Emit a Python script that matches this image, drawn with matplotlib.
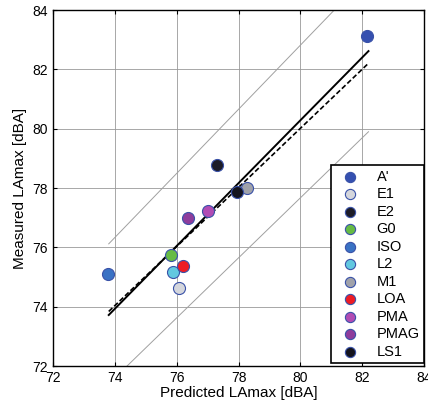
import numpy as np
import matplotlib
matplotlib.use('Agg')
import matplotlib.pyplot as plt

plt.rcParams['font.family'] = ['Liberation Sans', 'DejaVu Sans']

# Datos de los puntos
etiquetas = ["A'", 'E1', 'E2', 'G0', 'ISO', 'L2', 'M1', 'LOA', 'PMA', 'PMAG', 'LS1']
predicho = [82.16, 76.06, 77.29, 75.81, 73.77, 75.87, 78.26, 76.19, 77.00, 76.35, 77.94]
medido = [83.12, 74.64, 78.78, 75.75, 75.11, 75.18, 78.00, 75.38, 77.23, 77.00, 77.87]
colores = ['#3550b0', '#d4d6dc', '#1c1c28', '#66bb44', '#3a72c4', '#62c8e0',
           '#a0a2aa', '#ee1c24', '#b14cb4', '#8e3c9c', '#14141e']

# Lineas de regresion e intervalos
x_lin = [73.8, 82.2]
y_reg = [73.72, 82.62]
y_reg2 = [73.84, 82.21]
y_sup = [76.12, 85.2]
y_inf = [71.4, 79.9]

fig = plt.figure(figsize=(4.28, 4.07), dpi=100)
ax = fig.add_axes([0.124, 0.1007, 0.867, 0.8743])

ax.plot(x_lin, y_sup, color='#a0a0a0', lw=0.7)
ax.plot(x_lin, y_inf, color='#a0a0a0', lw=0.7)
ax.plot(x_lin, y_reg, color='black', lw=1.4)
ax.plot(x_lin, y_reg2, color='black', lw=1.2, ls=(0, (3, 1.5)))

for i in range(len(etiquetas)):
    ax.scatter(predicho[i], medido[i], s=75, color=colores[i], edgecolor='#3a52a8',
               linewidth=0.8, label=etiquetas[i], zorder=3)

ax.set_xlim(72, 84)
ax.set_ylim(72, 84)
ax.set_xticks(np.arange(72, 85, 2))
ax.set_yticks(np.arange(72, 85, 2))
ax.grid(True, color='#999999', lw=0.6)
ax.tick_params(direction='in', top=True, right=True, labelsize=10, length=3)
for s in ax.spines.values():
    s.set_linewidth(1.0)

ax.set_xlabel('Predicted LAmax [dBA]', fontsize=11, labelpad=1)
ax.set_ylabel('Measured LAmax [dBA]', fontsize=11, labelpad=4)

leg = ax.legend(loc='lower right', bbox_to_anchor=(1.0, 0.008), fontsize=10.5,
                fancybox=False, edgecolor='black', framealpha=1, labelspacing=0.24,
                handletextpad=0.8, borderpad=0.3, borderaxespad=0, scatterpoints=1,
                markerscale=0.85)
leg.get_frame().set_linewidth(1.2)

plt.savefig('out.png', dpi=100)
